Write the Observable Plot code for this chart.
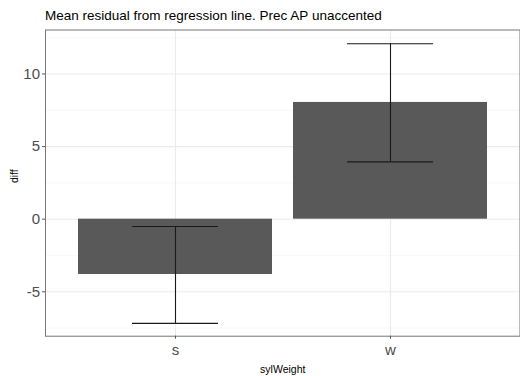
<!DOCTYPE html>
<html>
<head>
<meta charset="utf-8">
<script src="https://cdn.jsdelivr.net/npm/d3@7"></script>
<script src="https://cdn.jsdelivr.net/npm/@observablehq/plot@0.6"></script>
<style>
  html, body { margin: 0; padding: 0; background: #fff; }
  #wrap { position: relative; width: 520px; height: 376px; overflow: hidden; font-family: "Liberation Sans", Arial, sans-serif; }
  #title { position: absolute; left: 45px; top: 9.3px; font-size: 13.5px; line-height: 13.5px; color: #000; white-space: nowrap; }
  #chart { position: absolute; left: 0; top: 29px; }
</style>
</head>
<body>
<div id="wrap">
  <div id="title">Mean residual from regression line. Prec AP unaccented</div>
  <div id="chart"></div>
</div>
<script>
const categories = ["s", "w"];
const means = [-3.81, 8.04];
const lower = [-7.18, 3.95];
const upper = [-0.50, 12.08];
const majorTicks = [-5, 0, 5, 10];
const minorTicks = [-7.5, -2.5, 2.5, 7.5, 12.5];
const xLabel = "sylWeight";
const yLabel = "diff";

const data = categories.map((c, i) => ({cat: c, mean: means[i], lo: lower[i], hi: upper[i]}));

const chart = Plot.plot({
  width: 520,
  height: 347,
  marginLeft: 45,
  marginRight: 0.5,
  marginTop: 0.5,
  marginBottom: 40.3,
  style: {fontFamily: "Liberation Sans, Arial, sans-serif", background: "#fff", overflow: "visible"},
  x: {domain: categories, paddingInner: 0.1, paddingOuter: 0.15, axis: null},
  y: {domain: [-8.06, 13.03], axis: null},
  marks: [
    Plot.ruleY(minorTicks, {stroke: "#F3F3F3", strokeWidth: 0.6}),
    Plot.ruleY(majorTicks, {stroke: "#EBEBEB", strokeWidth: 1.1}),
    Plot.ruleX(categories, {x: d => d, stroke: "#EBEBEB", strokeWidth: 1.1}),
    Plot.barY(data, {x: "cat", y: "mean", fill: "#595959"}),
    Plot.ruleX(data, {x: "cat", y1: "lo", y2: "hi", stroke: "#1a1a1a", strokeWidth: 1.1}),
    Plot.tickY(data, {x: "cat", y: "lo", stroke: "#1a1a1a", strokeWidth: 1.1, insetLeft: 54, insetRight: 54}),
    Plot.tickY(data, {x: "cat", y: "hi", stroke: "#1a1a1a", strokeWidth: 1.1, insetLeft: 54, insetRight: 54}),
    Plot.frame({stroke: "#777", strokeWidth: 1}),
    Plot.axisY(majorTicks, {anchor: "left", tickSize: 3, tickPadding: 2.5, fontSize: 15, color: "#4D4D4D", stroke: "#555", label: null, tickFormat: d => String(d)}),
    Plot.axisX(categories, {anchor: "bottom", tickSize: 3, tickPadding: 5.5, fontSize: 15, color: "#4D4D4D", stroke: "#555", label: null}),
    Plot.text([xLabel], {frameAnchor: "bottom", text: d => d, dy: 33, lineAnchor: "middle", fontSize: 10.5, fill: "#000"}),
    Plot.text([yLabel], {frameAnchor: "left", text: d => d, dx: -30.4, rotate: -90, lineAnchor: "middle", fontSize: 10.5, fill: "#000"})
  ]
});
document.getElementById("chart").appendChild(chart);
</script>
</body>
</html>
